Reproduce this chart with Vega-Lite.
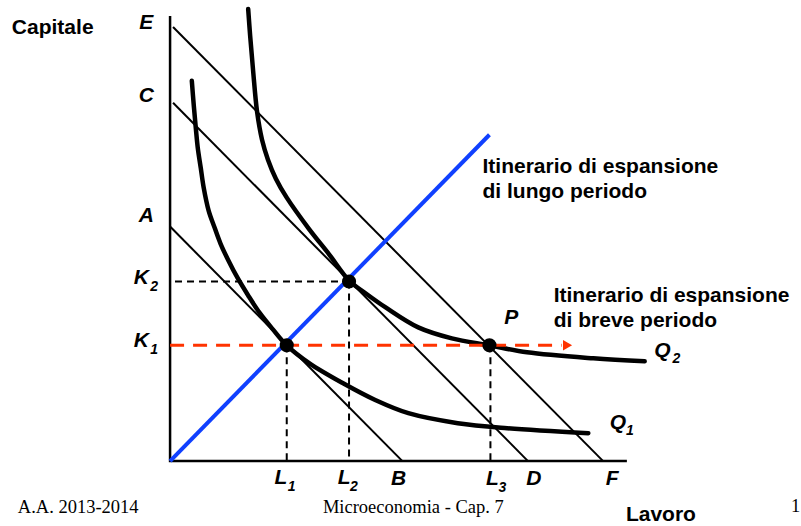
{
  "$schema": "https://vega.github.io/schema/vega-lite/v6.json",
  "width": 801,
  "height": 526,
  "padding": 0,
  "autosize": {"type": "fit", "contains": "padding"},
  "background": "white",
  "config": {"view": {"stroke": null}},
  "datasets": {
    "lines": [
      {"s": "axis", "o": 1, "L": 0, "K": 446},
      {"s": "axis", "o": 2, "L": 0, "K": 0},
      {"s": "axis", "o": 3, "L": 462, "K": 0},
      {"s": "AB", "o": 1, "L": 0, "K": 235},
      {"s": "AB", "o": 2, "L": 235, "K": 0},
      {"s": "CD", "o": 1, "L": 3, "K": 359},
      {"s": "CD", "o": 2, "L": 362, "K": 0},
      {"s": "EF", "o": 1, "L": 3, "K": 435},
      {"s": "EF", "o": 2, "L": 438, "K": 0},
      {"s": "LR", "o": 1, "L": 0, "K": 0},
      {"s": "LR", "o": 2, "L": 323, "K": 327},
      {"s": "K2h", "o": 1, "L": 5, "K": 180},
      {"s": "K2h", "o": 2, "L": 181, "K": 180},
      {"s": "L2v", "o": 1, "L": 181, "K": 180},
      {"s": "L2v", "o": 2, "L": 181, "K": 0},
      {"s": "L1v", "o": 1, "L": 118, "K": 116},
      {"s": "L1v", "o": 2, "L": 118, "K": 0},
      {"s": "L3v", "o": 1, "L": 324, "K": 116},
      {"s": "L3v", "o": 2, "L": 324, "K": 0},
      {"s": "SR", "o": 1, "L": 0, "K": 116},
      {"s": "SR", "o": 2, "L": 396, "K": 116},
      {"s": "Q1", "o": 1, "L": 22, "K": 381},
      {"s": "Q1", "o": 2, "L": 24, "K": 356},
      {"s": "Q1", "o": 3, "L": 26, "K": 334},
      {"s": "Q1", "o": 4, "L": 28, "K": 314},
      {"s": "Q1", "o": 5, "L": 31, "K": 294},
      {"s": "Q1", "o": 6, "L": 34, "K": 274},
      {"s": "Q1", "o": 7, "L": 39, "K": 251},
      {"s": "Q1", "o": 8, "L": 45, "K": 234},
      {"s": "Q1", "o": 9, "L": 51, "K": 218},
      {"s": "Q1", "o": 10, "L": 59, "K": 201},
      {"s": "Q1", "o": 11, "L": 68, "K": 184},
      {"s": "Q1", "o": 12, "L": 79, "K": 166},
      {"s": "Q1", "o": 13, "L": 91, "K": 148},
      {"s": "Q1", "o": 14, "L": 104, "K": 132},
      {"s": "Q1", "o": 15, "L": 118, "K": 116},
      {"s": "Q1", "o": 16, "L": 141, "K": 98},
      {"s": "Q1", "o": 17, "L": 175, "K": 78},
      {"s": "Q1", "o": 18, "L": 208, "K": 61},
      {"s": "Q1", "o": 19, "L": 241, "K": 48},
      {"s": "Q1", "o": 20, "L": 291, "K": 38},
      {"s": "Q1", "o": 21, "L": 341, "K": 33},
      {"s": "Q1", "o": 22, "L": 423, "K": 28},
      {"s": "Q2", "o": 1, "L": 79, "K": 453},
      {"s": "Q2", "o": 2, "L": 81, "K": 426},
      {"s": "Q2", "o": 3, "L": 84, "K": 391},
      {"s": "Q2", "o": 4, "L": 88, "K": 350},
      {"s": "Q2", "o": 5, "L": 93, "K": 322},
      {"s": "Q2", "o": 6, "L": 99, "K": 302},
      {"s": "Q2", "o": 7, "L": 107, "K": 283},
      {"s": "Q2", "o": 8, "L": 118, "K": 264},
      {"s": "Q2", "o": 9, "L": 141, "K": 232},
      {"s": "Q2", "o": 10, "L": 161, "K": 207},
      {"s": "Q2", "o": 11, "L": 181, "K": 181},
      {"s": "Q2", "o": 12, "L": 198, "K": 168},
      {"s": "Q2", "o": 13, "L": 218, "K": 154},
      {"s": "Q2", "o": 14, "L": 251, "K": 134},
      {"s": "Q2", "o": 15, "L": 285, "K": 123},
      {"s": "Q2", "o": 16, "L": 323, "K": 116},
      {"s": "Q2", "o": 17, "L": 361, "K": 109},
      {"s": "Q2", "o": 18, "L": 428, "K": 103},
      {"s": "Q2", "o": 19, "L": 480, "K": 100}
    ],
    "pts": [
      {"kind": "dot", "L": 118, "K": 116},
      {"kind": "dot", "L": 181, "K": 180},
      {"kind": "dot", "L": 323, "K": 116},
      {"kind": "arrow", "L": 402, "K": 116}
    ],
    "labels": [
      {"kind": "letter", "t": "E", "L": -24, "K": 439},
      {"kind": "letter", "t": "C", "L": -24, "K": 366},
      {"kind": "letter", "t": "A", "L": -24, "K": 246},
      {"kind": "letter", "t": "K", "L": -29, "K": 183},
      {"kind": "sub", "t": "2", "L": -16, "K": 174},
      {"kind": "letter", "t": "K", "L": -29, "K": 120},
      {"kind": "sub", "t": "1", "L": -16, "K": 111},
      {"kind": "letter", "t": "L", "L": 112, "K": -17},
      {"kind": "sub", "t": "1", "L": 123, "K": -26},
      {"kind": "letter", "t": "L", "L": 176, "K": -17},
      {"kind": "sub", "t": "2", "L": 186, "K": -26},
      {"kind": "letter", "t": "B", "L": 231, "K": -18},
      {"kind": "letter", "t": "L", "L": 326, "K": -18},
      {"kind": "sub", "t": "3", "L": 336, "K": -27},
      {"kind": "letter", "t": "D", "L": 368, "K": -18},
      {"kind": "letter", "t": "F", "L": 447, "K": -18},
      {"kind": "letter", "t": "P", "L": 345, "K": 143},
      {"kind": "letter", "t": "Q", "L": 498, "K": 110},
      {"kind": "sub", "t": "2", "L": 512, "K": 102},
      {"kind": "letter", "t": "Q", "L": 453, "K": 38},
      {"kind": "sub", "t": "1", "L": 465, "K": 30},
      {"kind": "caption", "t": "Capitale", "L": -160, "K": 434},
      {"kind": "caption", "t": "Lavoro", "L": 461, "K": -54},
      {"kind": "caption", "t": "Itinerario di espansione", "L": 316, "K": 295},
      {"kind": "caption", "t": "di lungo periodo", "L": 316, "K": 270},
      {"kind": "caption", "t": "Itinerario di espansione", "L": 388, "K": 165},
      {"kind": "caption", "t": "di breve periodo", "L": 388, "K": 140},
      {"kind": "footL", "t": "A.A. 2013-2014", "L": -154, "K": -46},
      {"kind": "footC", "t": "Microeconomia - Cap. 7", "L": 246, "K": -46},
      {"kind": "footL", "t": "1", "L": 628, "K": -45}
    ]
  },
  "encoding": {
    "x": {"field": "L", "type": "quantitative", "scale": {"domain": [-172, 629], "nice": false, "zero": false}, "axis": null},
    "y": {"field": "K", "type": "quantitative", "scale": {"domain": [-65, 461], "nice": false, "zero": false}, "axis": null}
  },
  "layer": [
    {
      "data": {"name": "lines"},
      "transform": [{"filter": "datum.s === 'axis'"}],
      "mark": {"type": "line", "color": "black", "strokeWidth": 2.5, "strokeJoin": "miter"},
      "encoding": {"order": {"field": "o", "type": "quantitative"}}
    },
    {
      "data": {"name": "lines"},
      "transform": [{"filter": "indexof(['AB','CD','EF'], datum.s) >= 0"}],
      "mark": {"type": "line", "color": "black", "strokeWidth": 2},
      "encoding": {"detail": {"field": "s"}, "order": {"field": "o", "type": "quantitative"}}
    },
    {
      "data": {"name": "lines"},
      "transform": [{"filter": "indexof(['K2h','L1v','L2v','L3v'], datum.s) >= 0"}],
      "mark": {"type": "line", "color": "black", "strokeWidth": 2, "strokeDash": [7, 5]},
      "encoding": {"detail": {"field": "s"}, "order": {"field": "o", "type": "quantitative"}}
    },
    {
      "data": {"name": "lines"},
      "transform": [{"filter": "datum.s === 'LR'"}],
      "mark": {"type": "line", "color": "#1040ff", "strokeWidth": 4},
      "encoding": {"order": {"field": "o", "type": "quantitative"}}
    },
    {
      "data": {"name": "lines"},
      "transform": [{"filter": "indexof(['Q1','Q2'], datum.s) >= 0"}],
      "mark": {"type": "line", "color": "black", "strokeWidth": 4.5, "interpolate": "catmull-rom", "strokeCap": "round"},
      "encoding": {"detail": {"field": "s"}, "order": {"field": "o", "type": "quantitative"}}
    },
    {
      "data": {"name": "lines"},
      "transform": [{"filter": "datum.s === 'SR'"}],
      "mark": {"type": "line", "color": "#ff3300", "strokeWidth": 3, "strokeDash": [14, 9]},
      "encoding": {"order": {"field": "o", "type": "quantitative"}}
    },
    {
      "data": {"name": "pts"},
      "transform": [{"filter": "datum.kind === 'arrow'"}],
      "mark": {"type": "point", "shape": "triangle-right", "filled": true, "color": "#ff3300", "size": 110, "opacity": 1}
    },
    {
      "data": {"name": "pts"},
      "transform": [{"filter": "datum.kind === 'dot'"}],
      "mark": {"type": "circle", "color": "black", "size": 200, "opacity": 1}
    },
    {
      "data": {"name": "labels"},
      "transform": [{"filter": "datum.kind === 'letter'"}],
      "mark": {"type": "text", "font": "Liberation Sans", "fontWeight": "bold", "fontStyle": "italic", "fontSize": 21, "align": "center", "baseline": "middle", "color": "black"},
      "encoding": {"text": {"field": "t"}}
    },
    {
      "data": {"name": "labels"},
      "transform": [{"filter": "datum.kind === 'sub'"}],
      "mark": {"type": "text", "font": "Liberation Sans", "fontWeight": "bold", "fontStyle": "italic", "fontSize": 14, "align": "center", "baseline": "middle", "color": "black"},
      "encoding": {"text": {"field": "t"}}
    },
    {
      "data": {"name": "labels"},
      "transform": [{"filter": "datum.kind === 'caption'"}],
      "mark": {"type": "text", "font": "Liberation Sans", "fontWeight": "bold", "fontSize": 21, "align": "left", "baseline": "middle", "color": "black"},
      "encoding": {"text": {"field": "t"}}
    },
    {
      "data": {"name": "labels"},
      "transform": [{"filter": "datum.kind === 'footL'"}],
      "mark": {"type": "text", "font": "Liberation Serif", "fontSize": 18.5, "align": "left", "baseline": "middle", "color": "black"},
      "encoding": {"text": {"field": "t"}}
    },
    {
      "data": {"name": "labels"},
      "transform": [{"filter": "datum.kind === 'footC'"}],
      "mark": {"type": "text", "font": "Liberation Serif", "fontSize": 18.5, "align": "center", "baseline": "middle", "color": "black"},
      "encoding": {"text": {"field": "t"}}
    }
  ]
}
